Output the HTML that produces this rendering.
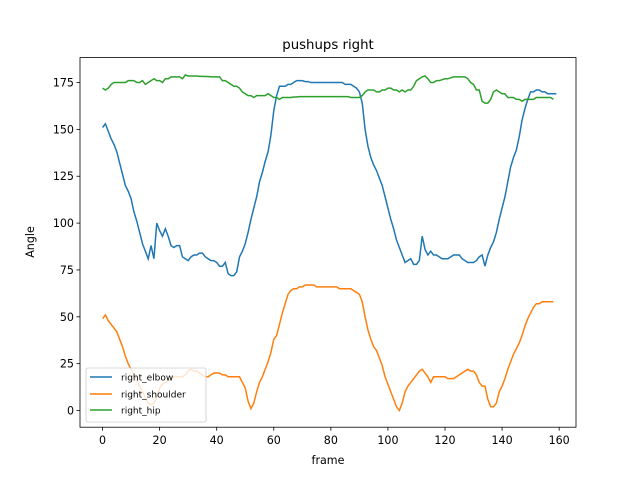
<!DOCTYPE html>
<html><head><meta charset="utf-8"><style>
body{margin:0;background:#fff}
svg text{font-family:"DejaVu Sans","Liberation Sans",sans-serif}
</style></head><body>
<svg id="chart" width="640" height="480" xmlns="http://www.w3.org/2000/svg">
<rect width="640" height="480" fill="#fff"/>
<text x="328" y="49" text-anchor="middle" font-size="13.3">pushups right</text>
<text x="328" y="464" text-anchor="middle" font-size="11.1">frame</text>
<text transform="translate(34,242) rotate(-90)" text-anchor="middle" font-size="11.1">Angle</text>
<g id="plot"></g>
<rect x="80" y="57.6" width="496" height="369.6" fill="none" stroke="#000" stroke-width="0.8"/>
<g id="axes"></g>
<g>
<rect x="86" y="368" width="120" height="54" rx="2" fill="#fff" fill-opacity="0.8" stroke="#ccc" stroke-width="0.8"/>
<line x1="90" y1="377" x2="112" y2="377" stroke="#1f77b4" stroke-width="1.5"/><text x="121" y="380.5" font-size="9">right_elbow</text>
<line x1="90" y1="394" x2="112" y2="394" stroke="#ff7f0e" stroke-width="1.5"/><text x="121" y="397.5" font-size="9">right_shoulder</text>
<line x1="90" y1="410" x2="112" y2="410" stroke="#2ca02c" stroke-width="1.5"/><text x="121" y="413.5" font-size="9">right_hip</text>
</g>
</svg>
<script>
const xTicks=[0,20,40,60,80,100,120,140,160];
const yTicks=[0,25,50,75,100,125,150,175];
const elbow=[151,153,149,145,142,138,132,126,120,117,113,106,101,95,89,85,81,88,81,100,96,93,97,93,88,87,88,88,82,81,80,82,83,83,84,84,82,81,80,80,79,77,77,79,73,72,72,74,82,85,89,95,102,108,114,122,127,133,138,147,160,168,173,173,173,174,174,175,176,176,176,175.5,175.5,175,175,175,175,175,175,175,175,175,175,175,175,174,174,174,173,172,170,164,150,141,135,131,128,124,120,114,108,102,97,91,87,83,79,80,81,78,78,80,93,86,83,85,83,83,82,81,81,81,82,83,83,83,81,80,79,79,79,80,82,83,77,83,87,90,95,102,108,114,122,130,135,139,146,155,161,166,170,170,171,171,170,170,169,169,169,169];
const shoulder=[49,51,48,46,44,42,38,34,29,25,22,19,16,13,10,7,4,3,4,7,12,14,15,16,17,18,18,18,18,19,21,22,21,21,20,19,18,18,19,20,20,20,19,19,18,18,18,18,18,15,12,5,1,4,10,15,18,22,26,31,38,40,46,52,57,62,64,65,65,66,66,67,67,67,67,66,66,66,66,66,66,66,66,65,65,65,65,65,64,63,62,58,50,43,38,34,32,28,24,18,14,10,6,2,0,4,10,13,15,17,19,21,22,20,18,15,18,18,18,18,18,17,17,17,18,19,20,21,22,21,21,19,15,13,13,6,2,2,4,10,13,17,22,26,30,33,36,40,45,49,52,55,57,57,58,58,58,58,58];
const hip=[172,171,172,174,175,175,175,175,175,176,176,176,175,175,176,174,175,176,177,176,176,175,177,177,178,178,178,178,177,179,178.5,178.5,178.5,178.5,178.3,178.3,178.2,178.2,178,178,178,178,176,176,175,174,173,173,172,170,169,168,168,167,168,168,168,168,169,168,167,167,166,167,167,167,167,167.3,167.3,167.5,167.5,167.5,167.5,167.5,167.5,167.5,167.5,167.5,167.5,167.5,167.5,167.5,167.5,167.5,167.5,167.5,167.5,167,167,167,167,168,170,171,171,171,170,170,171,171,172,172,171,171,170,171,170,171,171,173,176,177,178,178.5,177,175,175,176,176,176.5,177,177,177.5,178,178,178,178,178,177,175,174,171,171,165,164,164,166,170,171,170,169,169,167,167,167,166,166,165,166,166,166,166,167,167,167,167,167,167,166];
const X0=80,X1=576,Y0=427.2,Y1=57.6,xmin=-7.9,xmax=165.9,ymin=-8.9,ymax=188.3;
const sx=v=>X0+(v-xmin)/(xmax-xmin)*(X1-X0);
const sy=v=>Y0-(v-ymin)/(ymax-ymin)*(Y0-Y1);
const NS='http://www.w3.org/2000/svg';
const plot=document.getElementById('plot'),axes=document.getElementById('axes');
function line(arr,color,name){
  const p=document.createElementNS(NS,'path');
  p.setAttribute('d',arr.map((v,i)=>(i?'L':'M')+sx(i).toFixed(2)+','+sy(v).toFixed(2)).join(''));
  p.setAttribute('fill','none');p.setAttribute('stroke',color);p.setAttribute('stroke-width','1.5');
  
  
  plot.appendChild(p);
}
line(elbow,'#1f77b4','right-elbow-line');
line(shoulder,'#ff7f0e','right-shoulder-line');
line(hip,'#2ca02c','right-hip-line');
xTicks.forEach(t=>{
  const x=sx(t);
  const l=document.createElementNS(NS,'line');
  l.setAttribute('x1',x);l.setAttribute('x2',x);l.setAttribute('y1',Y0);l.setAttribute('y2',Y0+3.5);l.setAttribute('stroke','#000');l.setAttribute('stroke-width','0.8');
  
  
  axes.appendChild(l);
  const tx=document.createElementNS(NS,'text');
  tx.setAttribute('x',x);tx.setAttribute('y',Y0+17);tx.setAttribute('text-anchor','middle');tx.setAttribute('font-size','11.1');tx.textContent=t;
  
  
  axes.appendChild(tx);
});
yTicks.forEach(t=>{
  const y=sy(t);
  const l=document.createElementNS(NS,'line');
  l.setAttribute('x1',X0-3.5);l.setAttribute('x2',X0);l.setAttribute('y1',y);l.setAttribute('y2',y);l.setAttribute('stroke','#000');l.setAttribute('stroke-width','0.8');
  
  
  axes.appendChild(l);
  const tx=document.createElementNS(NS,'text');
  tx.setAttribute('x',X0-6);tx.setAttribute('y',y+4);tx.setAttribute('text-anchor','end');tx.setAttribute('font-size','11.1');tx.textContent=t;
  
  
  axes.appendChild(tx);
});
</script>
</body></html>
